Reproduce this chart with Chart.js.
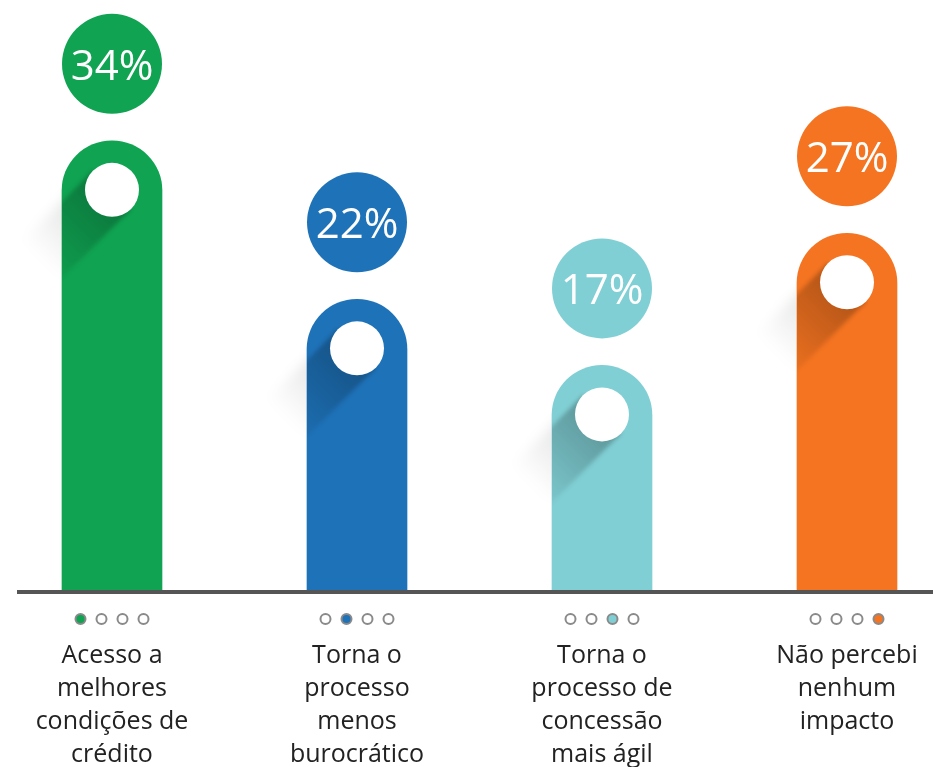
<!DOCTYPE html>
<html>
<head>
<meta charset="utf-8">
<script src="https://cdn.jsdelivr.net/npm/chart.js@4"></script>
<style>
  body { margin: 0; background: #fff; }
  #wrap { width: 933px; height: 767px; position: relative; }
</style>
</head>
<body>
<div id="wrap"><canvas id="chart"></canvas></div>
<script>
const categories = [
  ["Acesso a", "melhores", "condições de", "crédito"],
  ["Torna o", "processo", "menos", "burocrático"],
  ["Torna o", "processo de", "concessão", "mais ágil"],
  ["Não percebi", "nenhum", "impacto"],
];
const values = [34, 22, 17, 27];
const colors = ["#10a352", "#1e72b8", "#80cfd4", "#f47421"];

const FONT = '"Open Sans", "Noto Sans", sans-serif';

function drawShadow(ctx, cx, cy, r, alpha, len) {
  const k = Math.SQRT1_2;
  const grad = ctx.createLinearGradient(cx, cy, cx - len * k, cy + len * k);
  grad.addColorStop(0, "rgba(0,0,0," + alpha + ")");
  grad.addColorStop(1, "rgba(0,0,0,0)");
  ctx.fillStyle = grad;
  ctx.beginPath();
  ctx.moveTo(cx + r * k, cy + r * k);
  ctx.lineTo(cx - r * k, cy - r * k);
  ctx.lineTo(cx - r * k - len * k, cy - r * k + len * k);
  ctx.lineTo(cx + r * k - len * k, cy + r * k + len * k);
  ctx.closePath();
  ctx.fill();
}

const decor = {
  id: "decor",
  beforeDatasetsDraw(chart) {
    const ctx = chart.ctx;
    chart.getDatasetMeta(0).data.forEach((bar) => {
      ctx.save();
      ctx.filter = "blur(6px)";
      drawShadow(ctx, bar.x, bar.y + 49, 27, 0.16, 100);
      ctx.restore();
    });
  },
  afterDatasetsDraw(chart) {
    const ctx = chart.ctx;
    chart.getDatasetMeta(0).data.forEach((bar, i) => {
      const half = bar.width / 2;
      const cy = bar.y + 49;
      // shade inside the bar
      ctx.save();
      ctx.beginPath();
      ctx.rect(bar.x - half, bar.y, bar.width, bar.base - bar.y);
      ctx.clip();
      ctx.filter = "blur(2px)";
      drawShadow(ctx, bar.x, cy, 27, 0.28, 115);
      ctx.restore();
      // white hole
      ctx.save();
      ctx.fillStyle = "#fff";
      ctx.beginPath();
      ctx.arc(bar.x, cy, 27, 0, Math.PI * 2);
      ctx.fill();
      // value bubble
      const by = bar.y - 77;
      ctx.fillStyle = colors[i];
      ctx.beginPath();
      ctx.arc(bar.x, by, 50, 0, Math.PI * 2);
      ctx.fill();
      ctx.fillStyle = "#fff";
      ctx.font = "42px " + FONT;
      ctx.textAlign = "center";
      ctx.textBaseline = "alphabetic";
      ctx.fillText(values[i] + "%", bar.x, by + 16);
      ctx.restore();
    });
  },
  afterDraw(chart) {
    const ctx = chart.ctx;
    const xs = chart.scales.x;
    const base = chart.scales.y.getPixelForValue(0);
    ctx.save();
    ctx.fillStyle = "#555";
    ctx.fillRect(17, base, chart.width - 17, 4);
    categories.forEach((lines, i) => {
      const x = xs.getPixelForValue(i);
      for (let d = 0; d < 4; d++) {
        const dx = x + (d - 1.5) * 21;
        ctx.beginPath();
        ctx.arc(dx, base + 29, 5, 0, Math.PI * 2);
        ctx.fillStyle = d === i ? colors[i] : "#fff";
        ctx.fill();
        ctx.lineWidth = 2;
        ctx.strokeStyle = "#8a8a8a";
        ctx.stroke();
      }
      ctx.fillStyle = "#222";
      ctx.font = "25px " + FONT;
      ctx.textAlign = "center";
      ctx.textBaseline = "alphabetic";
      lines.forEach((t, j) => ctx.fillText(t, x, base + 73 + j * 33));
    });
    ctx.restore();
  },
};

new Chart(document.getElementById("chart"), {
  type: "bar",
  data: {
    labels: categories.map((l) => l.join(" ")),
    datasets: [
      {
        data: values,
        backgroundColor: colors,
        barThickness: 100,
        borderRadius: { topLeft: 50, topRight: 50, bottomLeft: 0, bottomRight: 0 },
        borderSkipped: false,
        clip: false,
      },
    ],
  },
  options: {
    responsive: true,
    maintainAspectRatio: false,
    animation: false,
    layout: { padding: { left: 112, right: 86, top: 0, bottom: 177 } },
    plugins: { legend: { display: false }, tooltip: { enabled: false } },
    scales: {
      x: { display: false, offset: false, grid: { display: false } },
      y: { display: false, min: 0, max: 44.66, grid: { display: false } },
    },
  },
  plugins: [decor],
});
</script>
</body>
</html>
